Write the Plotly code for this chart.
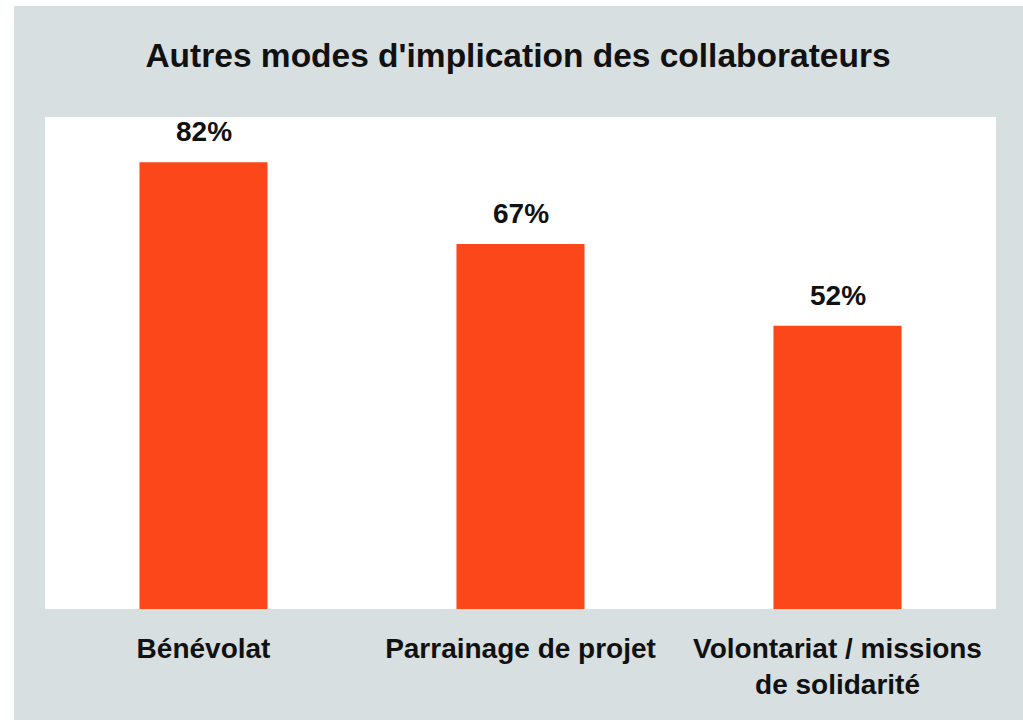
import plotly.graph_objects as go

categories = ["Bénévolat", "Parrainage de projet", "Volontariat / missions<br>de solidarité"]
values = [82, 67, 52]
value_labels = ["82%", "67%", "52%"]
title_text = "Autres modes d'implication des collaborateurs"

W, H = 1023, 720
L, R, T, B = 45, 27, 117, 111
pw, ph = W - L - R, H - T - B

GRAY = "#d8dfe0"
BAR = "#fb4719"
FONT = "Liberation Sans, Arial, sans-serif"

fig = go.Figure()
fig.add_trace(go.Bar(x=categories, y=values, marker=dict(color=BAR, line=dict(width=0)),
                     hoverinfo="skip"))

for c, v, t in zip(categories, values, value_labels):
    fig.add_annotation(x=c, y=v, text=f"<b>{t}</b>", showarrow=False, yanchor="bottom",
                       yshift=13, font=dict(family=FONT, size=28, color="#111111"))

def px_x(p):
    return (p - L) / pw

def px_y(p):
    return 1 - (p - T) / ph

shapes = [
    dict(type="rect", xref="paper", yref="paper", x0=px_x(-5), x1=px_x(14), y0=px_y(H + 5), y1=px_y(-5),
         fillcolor="white", line=dict(width=0), layer="above"),
    dict(type="rect", xref="paper", yref="paper", x0=px_x(-5), x1=px_x(W + 5), y0=px_y(6), y1=px_y(-5),
         fillcolor="white", line=dict(width=0), layer="above"),
]

fig.update_layout(
    width=W, height=H,
    margin=dict(l=L, r=R, t=T, b=B, pad=0, autoexpand=False),
    paper_bgcolor=GRAY, plot_bgcolor="white",
    title=dict(text=f"<b>{title_text}</b>", x=518 / W, xanchor="center", y=1 - 55 / H, yanchor="middle",
               font=dict(family=FONT, size=33.5, color="#111111")),
    bargap=0.596,
    showlegend=False,
    shapes=shapes,
    xaxis=dict(showgrid=False, zeroline=False, showline=False, ticks="", automargin=False,
               tickangle=0, tickfont=dict(family=FONT, size=28, color="#111111"), ticklabelstandoff=20,
               fixedrange=True),
    yaxis=dict(range=[0, 90.3], visible=False, fixedrange=True, automargin=False),
)
fig.update_xaxes(tickprefix="<b>", ticksuffix="</b>")

fig.write_html("out.html", config={"displayModeBar": False},
               post_script="document.body.style.margin='0';document.body.style.overflow='hidden';")
